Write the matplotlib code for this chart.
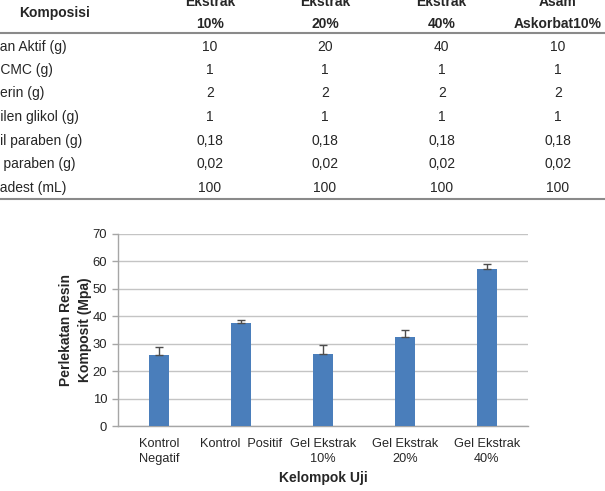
import matplotlib
matplotlib.use("Agg")
import matplotlib.pyplot as plt
from matplotlib.lines import Line2D
import numpy as np

plt.rcParams['font.family'] = ['Liberation Sans', 'DejaVu Sans']

# ---- table data ----
table_headers_line1 = ["Ekstrak", "Ekstrak", "Ekstrak", "Asam"]
table_headers_line2 = ["10%", "20%", "40%", "Askorbat10%"]
row_labels = ["Bahan Aktif (g)", "Na-CMC (g)", "Gliserin (g)", "Propilen glikol (g)",
              "Metil paraben (g)", "Propil paraben (g)", "Aquadest (mL)"]
# part of each row label cut off by the left edge of the picture
row_label_hidden = ["Bah", "Na-", "Glis", "Prop", "Met", "Propil", "Aqu"]
col_10 = ["10", "1", "2", "1", "0,18", "0,02", "100"]
col_20 = ["20", "1", "2", "1", "0,18", "0,02", "100"]
col_40 = ["40", "1", "2", "1", "0,18", "0,02", "100"]
col_asam = ["10", "1", "2", "1", "0,18", "0,02", "100"]

# ---- chart data ----
categories = ["Kontrol\nNegatif", "Kontrol  Positif", "Gel Ekstrak\n10%",
              "Gel Ekstrak\n20%", "Gel Ekstrak\n40%"]
means = [25.8, 37.5, 26.3, 32.6, 57.2]
errors = [3.0, 1.3, 3.2, 2.3, 1.8]
yticks = [0, 10, 20, 30, 40, 50, 60, 70]

W, H = 605, 491
fig = plt.figure(figsize=(W / 100, H / 100), dpi=100)
renderer = fig.canvas.get_renderer()

def fx(px):
    return px / W

def fy(py):
    return 1 - py / H

TXT = '#262626'

# ---- table ----
fig.text(fx(55), fy(13.3), "Komposisi", ha='center', va='center',
         fontsize=10, fontweight='bold', color=TXT)
col_x = [210, 325, 441.7, 558]
for x, l1, l2 in zip(col_x, table_headers_line1, table_headers_line2):
    fig.text(fx(x), fy(5.7), l1, ha='center', va='baseline', fontsize=10,
             fontweight='bold', color=TXT)
    fig.text(fx(x), fy(28), l2, ha='center', va='baseline', fontsize=10,
             fontweight='bold', color=TXT)

row_y = [46.7, 70, 93.3, 116.7, 140.7, 164.3, 187.7]
cols = [col_10, col_20, col_40, col_asam]
for i, (y, lab, hid) in enumerate(zip(row_y, row_labels, row_label_hidden)):
    probe = fig.text(0, 0, hid, fontsize=10)
    wpx = probe.get_window_extent(renderer=renderer).width
    probe.remove()
    fig.text(fx(-wpx), fy(y), lab, ha='left', va='center', fontsize=10, color=TXT)
    for x, col in zip(col_x, cols):
        fig.text(fx(x), fy(y), col[i], ha='center', va='center', fontsize=10,
                 color=TXT)

for yl in (33.3, 199.3):
    fig.add_artist(Line2D([0, 1], [fy(yl), fy(yl)], transform=fig.transFigure,
                          color='#8a8a8a', lw=1.5))

# ---- chart ----
ax_left, ax_right, ax_top, ax_bot = 118.3, 527.7, 233.7, 426.3
ax = fig.add_axes([fx(ax_left), fy(ax_bot), (ax_right - ax_left) / W,
                   (ax_bot - ax_top) / H])
x = np.arange(len(categories))
ax.bar(x, means, width=0.245, color='#4a7ebb', zorder=3)
ax.errorbar(x, means, yerr=[np.zeros(len(errors)), errors], fmt='none',
            ecolor='#4d4d4d', elinewidth=1, capsize=2.6, capthick=1, zorder=4)

ax.set_xlim(-0.5, len(categories) - 0.5)
ax.set_ylim(0, 70)
ax.set_yticks(yticks)
ax.set_xticks(x)
ax.set_xticklabels(categories, fontsize=9.2, linespacing=1.32, color=TXT)
ax.tick_params(axis='x', length=0, pad=8.2)
ax.tick_params(axis='y', length=4, width=1, color='#a6a6a6', labelsize=9.4,
               labelcolor=TXT, pad=4)
ax.yaxis.grid(True, color='#c4c4c4', lw=1)
ax.set_axisbelow(True)
for s in ('top', 'right'):
    ax.spines[s].set_visible(False)
for s in ('left', 'bottom'):
    ax.spines[s].set_color('#a6a6a6')
    ax.spines[s].set_linewidth(1)

ax.set_ylabel("Perlekatan Resin\nKomposit (Mpa)", fontsize=10, fontweight='bold',
              color=TXT, linespacing=1.5)
ax.yaxis.label.set_va('center')
ax.yaxis.set_label_coords(-0.105, 0.5)
ax.set_xlabel("Kelompok Uji", fontsize=10, fontweight='bold', color=TXT)
ax.xaxis.label.set_va('center')
ax.xaxis.set_label_coords(0.5, -0.267)

fig.savefig("out.png", dpi=100)
